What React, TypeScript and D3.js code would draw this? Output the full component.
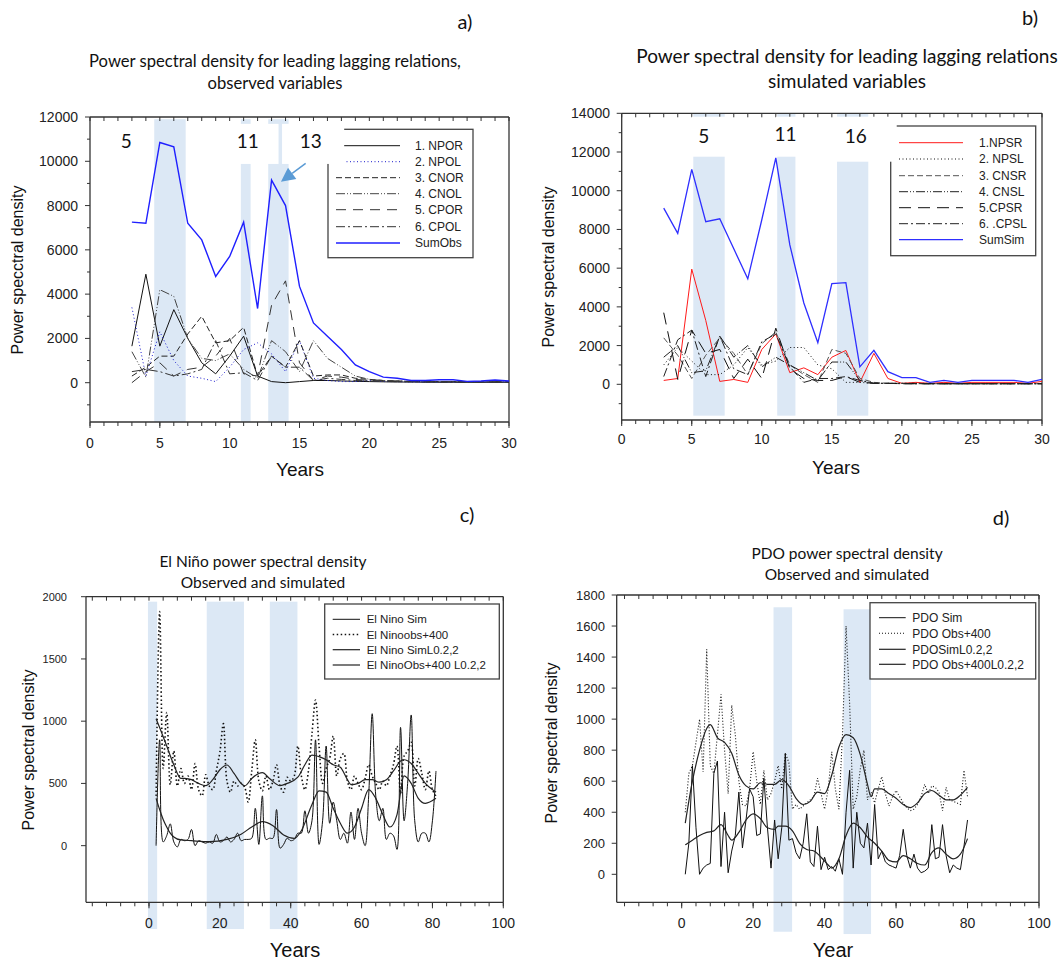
import React from 'react';
import * as d3 from 'd3';

// ---------------- Panel a data (years 3..30) ----------------
const yearsAB = [3,4,5,6,7,8,9,10,11,12,13,14,15,16,17,18,19,20,21,22,23,24,25,26,27,28,29,30];
const NPOR = [1650,4900,1650,3300,2000,900,400,1200,2100,300,50,0,50,100,100,80,60,50,40,30,30,20,20,20,20,20,20,20];
const NPOL = [3400,300,2300,1000,300,200,50,700,1500,1800,1300,500,1900,200,100,50,50,100,50,50,30,30,30,30,30,30,30,30];
const CNOR = [300,700,1200,1200,2200,3000,1800,1900,2500,300,1200,700,1900,300,350,350,200,150,100,80,60,50,50,50,40,40,40,40];
const CNOL = [1400,250,4200,3900,2000,1100,1000,1300,600,200,1900,1400,500,1900,1100,700,300,150,100,80,60,50,50,50,40,40,40,40];
const CPOR = [0,500,900,300,600,700,1200,2000,400,300,3500,4600,900,100,300,250,150,100,80,60,50,50,40,40,30,30,30,30];
const CPOL = [500,600,500,300,400,600,1900,400,450,100,1200,700,700,100,200,150,100,80,60,50,40,40,30,30,30,30,30,30];
const SumObs = [7250,7200,10850,10650,7200,6450,4800,5700,7250,3350,9150,8000,4350,2700,2100,1500,800,500,250,200,100,100,130,130,60,80,120,80];

// ---------------- Panel b data ----------------
const NPSR = [200,300,5950,3300,150,250,100,1800,2600,600,850,500,1400,1750,100,1600,300,50,100,50,100,50,100,100,100,100,50,150];
const NPSL = [1000,1900,1200,500,500,1000,1900,1000,1200,1900,1900,1000,800,100,100,50,50,50,50,50,30,30,30,30,30,30,30,30];
const CNSR = [2400,1500,300,1500,2400,1600,500,2100,2700,1000,500,100,1800,1600,300,100,50,50,50,30,30,30,30,30,30,30,30,30];
const CNSL = [1400,2000,600,700,2500,1400,2000,900,1400,1000,600,200,1150,1150,200,50,50,50,30,30,30,30,30,30,30,30,30,30];
const CPSR = [3700,250,2800,1600,1800,300,1300,300,2900,800,300,200,200,400,100,50,50,30,30,30,30,30,30,30,30,30,30,30];
const CPSL = [400,2300,2800,400,2500,800,500,2200,2600,900,100,300,300,400,200,50,50,30,30,30,30,30,30,30,30,30,30,30];
const SumSim = [9100,7800,11100,8400,8550,7000,5450,8500,11700,7200,4200,2150,5200,5250,900,1750,650,350,350,100,200,100,200,200,200,200,100,250];

// ---------------- Panel c data ----------------
const ninoX = d3.range(2, 82);
const ninoSim = [0,850,30,80,175,30,-10,50,40,50,130,0,40,30,20,30,20,90,30,40,70,30,50,100,40,50,50,60,300,10,400,50,60,60,290,-20,10,60,40,50,100,100,280,100,200,850,10,200,800,180,350,200,50,100,20,270,50,300,100,0,400,1060,400,200,300,50,100,80,-30,950,200,500,1050,200,30,100,100,30,200,600];
const ninoObs = [400,1880,620,1070,490,760,480,620,500,560,450,660,450,400,570,480,450,600,750,980,520,430,520,480,500,470,350,600,850,520,440,560,450,520,650,480,430,550,520,560,800,560,450,600,900,1170,800,500,620,700,880,560,700,740,520,450,560,500,450,540,650,560,500,450,520,480,560,650,800,420,720,760,830,480,700,580,450,600,450,400];
const ninoSimLX = [2,3,4,5,6,7,9,12,17,22,26,29,32,35,38,41,43,46,48,50,52,54,56,58,60,62,64,66,68,70,72,74,76,78,81];
const ninoSimLY = [380,290,210,150,100,70,46,40,32,50,92,150,193,160,86,59,120,330,440,430,300,180,100,150,300,450,380,250,150,250,560,500,380,340,380];
const ninoObsLX = [2,3,5,7,9,10,12,14,16,18,20,22,24,26,27,29,31,32,34,37,39,42,44,46,48,50,52,54,56,57,59,61,63,65,67,69,71,72,74,76,78,80,81];
const ninoObsLY = [1020,950,800,650,541,540,530,500,482,530,610,648,580,500,480,540,580,586,540,482,500,550,650,728,715,690,650,630,530,490,500,530,530,510,530,600,680,690,660,580,500,450,430];

// ---------------- Panel d data ----------------
const pdoX = d3.range(1, 81);
const pdoSim = [0,200,700,300,0,40,60,70,650,730,50,400,10,150,250,530,170,350,550,500,250,260,620,300,40,350,100,300,780,220,230,140,100,200,390,80,50,310,30,110,30,50,20,100,0,400,670,40,400,200,170,330,60,450,100,150,80,60,50,40,120,290,120,40,130,40,10,20,40,320,100,110,320,120,10,60,40,30,180,350];
const pdoObs = [400,650,700,850,1000,660,1450,700,650,900,1160,800,520,1090,900,600,450,440,550,790,600,450,670,480,520,600,700,550,780,720,420,450,420,440,460,480,500,620,520,420,550,790,550,420,900,1600,1100,420,500,680,800,480,530,460,550,630,520,440,500,540,500,460,430,410,420,450,500,580,520,570,560,530,410,560,480,470,460,450,670,500];
const pdoObsLX = [1,3,5,7,8,10,12,14,16,18,20,22,24,26,28,30,32,34,36,38,40,42,44,46,48,50,52,53,54,56,58,60,62,64,66,68,70,72,74,76,78,80];
const pdoObsLY = [330,600,800,940,965,880,850,780,640,570,550,590,580,580,610,570,490,450,470,530,520,640,820,900,880,770,580,500,550,550,520,490,450,430,460,520,540,510,480,480,510,560];
const pdoSimLX = [1,3,5,7,9,11,13,14,16,18,20,22,24,26,27,29,31,33,35,37,39,41,42,44,46,48,50,52,54,56,58,60,62,64,66,68,70,72,74,76,78,80];
const pdoSimLY = [190,220,250,270,280,320,250,220,270,350,390,360,300,290,310,310,280,200,160,150,110,60,40,100,250,330,300,240,200,150,90,80,120,100,70,60,140,170,130,100,130,230];

const AX = '"Liberation Sans", Arial, sans-serif';
const TT = 'Lato, "Open Sans", sans-serif';
const BAND = '#dce8f5';

type S = { name: string; x: number[]; y: number[]; color: string; dash?: string; width?: number; curve?: any; legendDash?: string };

type Cfg = {
  l: number; r: number; t: number; b: number;
  xd: [number, number]; yd: [number, number];
  xMajor: number[]; xMinor: number[]; yMajor: number[]; yMinor: number[];
  yLabX: number; yFont: number; xLabY: number; xFont: number;
  series: S[];
  bands: { x0: number; x1: number; y0: number; y1: number }[];
  boxes: { x0: number; x1: number; y0: number; y1: number }[];
  nums: { text: string; x: number; y: number }[];
  legend: { x: number; y: number; w: number; h: number; lx0: number; lx1: number; tx: number; ry: number[]; font: number };
  yTitle: { text: string; x: number; y: number; font: number };
  xTitle: { text: string; x: number; y: number; font: number };
  title: { lines: string[]; x: number; y: number[]; font: number };
  tag: { text: string; x: number; y: number };
  arrow?: { x0: number; y0: number; x1: number; y1: number };
};

function Panel({ c }: { c: Cfg }) {
  const xs = d3.scaleLinear().domain(c.xd).range([c.l, c.r]);
  const ys = d3.scaleLinear().domain(c.yd).range([c.b, c.t]);
  const stroke = '#333';
  let arrowEl = null;
  if (c.arrow) {
    const ax0 = xs(c.arrow.x0), ay0 = ys(c.arrow.y0), ax1 = xs(c.arrow.x1), ay1 = ys(c.arrow.y1);
    const ang = Math.atan2(ay1 - ay0, ax1 - ax0);
    const L = 14, Wd = 7;
    const bx = ax1 - L * Math.cos(ang), by = ay1 - L * Math.sin(ang);
    const p1 = [bx + Wd * Math.sin(ang), by - Wd * Math.cos(ang)];
    const p2 = [bx - Wd * Math.sin(ang), by + Wd * Math.cos(ang)];
    arrowEl = (
      <g>
        <line x1={ax0} y1={ay0} x2={bx} y2={by} stroke="#5b9bd5" strokeWidth={1.5} />
        <polygon points={`${ax1},${ay1} ${p1[0]},${p1[1]} ${p2[0]},${p2[1]}`} fill="#5b9bd5" />
      </g>
    );
  }
  return (
    <g>
      {c.bands.map((bd, i) => (
        <rect key={'b' + i} x={xs(bd.x0)} y={ys(bd.y1)} width={xs(bd.x1) - xs(bd.x0)} height={ys(bd.y0) - ys(bd.y1)} fill={BAND} />
      ))}
      <line x1={c.l} x2={c.r} y1={c.b} y2={c.b} stroke={stroke} strokeWidth={1.3} />
      <line x1={c.l} x2={c.r} y1={c.t} y2={c.t} stroke={stroke} strokeWidth={1.3} />
      <line x1={c.l} x2={c.l} y1={c.t} y2={c.b} stroke={stroke} strokeWidth={1.3} />
      <line x1={c.r} x2={c.r} y1={c.t} y2={c.b} stroke={stroke} strokeWidth={1.3} />
      {c.xMinor.map((v, i) => (
        <g key={'xm' + i}>
          <line x1={xs(v)} x2={xs(v)} y1={c.b} y2={c.b + 4} stroke={stroke} strokeWidth={1} />
          <line x1={xs(v)} x2={xs(v)} y1={c.t} y2={c.t + 4} stroke={stroke} strokeWidth={1} />
        </g>
      ))}
      {c.xMajor.map((v, i) => (
        <g key={'xM' + i}>
          <line x1={xs(v)} x2={xs(v)} y1={c.b} y2={c.b + 6} stroke={stroke} strokeWidth={1} />
          <text x={xs(v)} y={c.xLabY} textAnchor="middle" fontFamily={AX} fontSize={c.xFont} fill="#222">{v}</text>
        </g>
      ))}
      {c.yMinor.map((v, i) => (
        <line key={'ym' + i} x1={c.l - 3} x2={c.l} y1={ys(v)} y2={ys(v)} stroke={stroke} strokeWidth={1} />
      ))}
      {c.yMajor.map((v, i) => (
        <g key={'yM' + i}>
          <line x1={c.l - 5} x2={c.l} y1={ys(v)} y2={ys(v)} stroke={stroke} strokeWidth={1} />
          <text x={c.yLabX} y={ys(v) + c.yFont * 0.36} textAnchor="end" fontFamily={AX} fontSize={c.yFont} fill="#222">{v}</text>
        </g>
      ))}
      {c.series.map((s, i) => {
        const gen = d3.line<number>().x((d, j) => xs(s.x[j])).y((d) => ys(d)).curve(s.curve || d3.curveLinear);
        return <path key={'s' + i} d={gen(s.y) || ''} fill="none" stroke={s.color} strokeWidth={s.width || 1} strokeDasharray={s.dash} />;
      })}
      <rect x={c.legend.x} y={c.legend.y} width={c.legend.w} height={c.legend.h} fill="white" stroke="#444" strokeWidth={1.3} />
      {c.series.map((s, i) => (
        <g key={'lg' + i}>
          <line x1={c.legend.lx0} x2={c.legend.lx1} y1={c.legend.ry[i]} y2={c.legend.ry[i]} stroke={s.color} strokeWidth={s.width || 1} strokeDasharray={s.legendDash || s.dash} />
          <text x={c.legend.tx} y={c.legend.ry[i] + c.legend.font * 0.36} fontFamily={AX} fontSize={c.legend.font} fill="#222">{s.name}</text>
        </g>
      ))}
      {c.boxes.map((bx, i) => (
        <rect key={'w' + i} x={xs(bx.x0)} y={ys(bx.y1)} width={xs(bx.x1) - xs(bx.x0)} height={ys(bx.y0) - ys(bx.y1)} fill="white" />
      ))}
      {c.nums.map((n, i) => (
        <text key={'n' + i} x={xs(n.x)} y={ys(n.y)} textAnchor="middle" fontFamily={TT} fontSize={19} fill="#111">{n.text}</text>
      ))}
      {arrowEl}
      <text transform={`translate(${c.yTitle.x},${c.yTitle.y}) rotate(-90)`} textAnchor="middle" fontFamily={AX} fontSize={c.yTitle.font} fill="#111" dominantBaseline="middle">{c.yTitle.text}</text>
      <text x={c.xTitle.x} y={c.xTitle.y} textAnchor="middle" fontFamily={AX} fontSize={c.xTitle.font} fill="#111">{c.xTitle.text}</text>
      {c.title.lines.map((t, i) => (
        <text key={'t' + i} x={c.title.x} y={c.title.y[i]} textAnchor="middle" fontFamily={TT} fontSize={c.title.font} fill="#111">{t}</text>
      ))}
      <text x={c.tag.x} y={c.tag.y} textAnchor="middle" fontFamily={TT} fontSize={20} fill="#111">{c.tag.text}</text>
    </g>
  );
}

const crA = d3.curveLinear;

const cfgA: Cfg = {
  l: 90, r: 509, t: 117, b: 422, xd: [0, 30], yd: [-1775, 12000],
  xMajor: [0, 5, 10, 15, 20, 25, 30], xMinor: d3.range(0, 31), yMajor: [0, 2000, 4000, 6000, 8000, 10000, 12000], yMinor: [-1000, 1000, 3000, 5000, 7000, 9000, 11000],
  yLabX: 78, yFont: 14, xLabY: 448, xFont: 14,
  series: [
    { name: '1. NPOR', x: yearsAB, y: NPOR, color: '#111', curve: crA },
    { name: '2. NPOL', x: yearsAB, y: NPOL, color: '#1a1acc', dash: '1,2.5', curve: crA },
    { name: '3. CNOR', x: yearsAB, y: CNOR, color: '#222', dash: '6,3', curve: crA },
    { name: '4. CNOL', x: yearsAB, y: CNOL, color: '#444', dash: '9,2,1,2,1,2', curve: crA },
    { name: '5. CPOR', x: yearsAB, y: CPOR, color: '#333', dash: '10,7', curve: crA },
    { name: '6. CPOL', x: yearsAB, y: CPOL, color: '#333', dash: '9,3,2,3', curve: crA },
    { name: 'SumObs', x: yearsAB, y: SumObs, color: '#1f1fff', width: 1.4, curve: crA },
  ],
  bands: [
    { x0: 4.6, x1: 6.85, y0: -1775, y1: 11900 },
    { x0: 10.8, x1: 11.5, y0: -1775, y1: 11900 },
    { x0: 12.76, x1: 14.22, y0: -1775, y1: 11900 },
  ],
  boxes: [
    { x0: 10.3, x1: 12.2, y0: 9880, y1: 11690 },
    { x0: 12.7, x1: 13.5, y0: 9880, y1: 11690 },
    { x0: 13.75, x1: 18.2, y0: 9880, y1: 11690 },
  ],
  nums: [
    { text: '5', x: 2.6, y: 10600 },
    { text: '11', x: 11.3, y: 10600 },
    { text: '13', x: 15.8, y: 10600 },
  ],
  legend: { x: 328, y: 129.3, w: 145, h: 128.4, lx0: 336, lx1: 400, tx: 415, ry: [145.7, 161.7, 177.7, 193.7, 209.7, 226.7, 243], font: 12 },
  yTitle: { text: 'Power specctral density', x: 19, y: 270, font: 16 },
  xTitle: { text: 'Years', x: 300, y: 476, font: 19 },
  title: { lines: ['Power spectral density for leading lagging relations,', 'observed variables'], x: 275, y: [67, 89], font: 16.6 },
  tag: { text: 'a)', x: 465, y: 29 },
  arrow: { x0: 15.44, y0: 9908, x1: 13.67, y1: 9078 },
};

const cfgB: Cfg = {
  l: 621.7, r: 1042, t: 113.3, b: 420, xd: [0, 30], yd: [-1844, 14000],
  xMajor: [0, 5, 10, 15, 20, 25, 30], xMinor: d3.range(0, 31), yMajor: [0, 2000, 4000, 6000, 8000, 10000, 12000, 14000], yMinor: [-1000, 1000, 3000, 5000, 7000, 9000, 11000, 13000],
  yLabX: 610, yFont: 14, xLabY: 444, xFont: 14,
  series: [
    { name: '1.NPSR', x: yearsAB, y: NPSR, color: '#ff1a1a', curve: crA },
    { name: '2. NPSL', x: yearsAB, y: NPSL, color: '#111', dash: '1,2.5', curve: crA },
    { name: '3. CNSR', x: yearsAB, y: CNSR, color: '#555', dash: '6,3', curve: crA },
    { name: '4. CNSL', x: yearsAB, y: CNSL, color: '#222', dash: '9,2,1,2,1,2', curve: crA },
    { name: '5.CPSR', x: yearsAB, y: CPSR, color: '#111', dash: '12,7', curve: crA },
    { name: '6. .CPSL', x: yearsAB, y: CPSL, color: '#222', dash: '9,3,2,3', curve: crA },
    { name: 'SumSim', x: yearsAB, y: SumSim, color: '#2e2eff', width: 1.3, curve: crA },
  ],
  bands: [
    { x0: 5.11, x1: 7.35, y0: -1620, y1: 14000 },
    { x0: 11.1, x1: 12.4, y0: -1620, y1: 14000 },
    { x0: 15.37, x1: 17.6, y0: -1620, y1: 14000 },
  ],
  boxes: [
    { x0: 5.0, x1: 7.5, y0: 11758, y1: 13824 },
    { x0: 11.0, x1: 12.5, y0: 11758, y1: 13824 },
    { x0: 15.3, x1: 19.63, y0: 11500, y1: 13824 },
  ],
  nums: [
    { text: '5', x: 5.85, y: 12450 },
    { text: '11', x: 11.7, y: 12550 },
    { text: '16', x: 16.7, y: 12450 },
  ],
  legend: { x: 890.7, y: 126, w: 145, h: 129.7, lx0: 899, lx1: 963, tx: 979, ry: [142.7, 159, 175.7, 191.7, 207.7, 223.7, 239.7], font: 12 },
  yTitle: { text: 'Power spectral density', x: 550, y: 267, font: 16 },
  xTitle: { text: 'Years', x: 836, y: 474, font: 19 },
  title: { lines: ['Power spectral density for leading lagging relations', 'simulated variables'], x: 847, y: [63, 88], font: 19 },
  tag: { text: 'b)', x: 1030, y: 25 },
};

const cfgC: Cfg = {
  l: 86, r: 503.3, t: 596.7, b: 902.3, xd: [-17.78, 100], yd: [-455, 2000],
  xMajor: [0, 20, 40, 60, 80, 100], xMinor: d3.range(-16, 101, 4), yMajor: [0, 500, 1000, 1500, 2000], yMinor: [],
  yLabX: 67, yFont: 11, xLabY: 928, xFont: 14,
  series: [
    { name: 'El Nino Sim', x: ninoX, y: ninoSim, color: '#111', curve: d3.curveCatmullRom.alpha(0.5) },
    { name: 'El Ninoobs+400', x: ninoX, y: ninoObs, color: '#111', dash: '1.5,2.5', width: 1.6, curve: d3.curveCatmullRom.alpha(0.5) },
    { name: 'El Nino SimL0.2,2', x: ninoSimLX, y: ninoSimLY, color: '#222', width: 1.2, curve: d3.curveMonotoneX },
    { name: 'El NinoObs+400 L0.2,2', x: ninoObsLX, y: ninoObsLY, color: '#222', width: 1.2, curve: d3.curveMonotoneX },
  ],
  bands: [
    { x0: -0.3, x1: 2.3, y0: -670, y1: 1960 },
    { x0: 16.3, x1: 26.8, y0: -670, y1: 1960 },
    { x0: 34.1, x1: 41.9, y0: -670, y1: 1960 },
  ],
  boxes: [], nums: [],
  legend: { x: 324.7, y: 604, w: 174.6, h: 75, lx0: 332.7, lx1: 360, tx: 366.7, ry: [619.3, 634.5, 649.7, 665], font: 11.5 },
  yTitle: { text: 'Power spectral density', x: 30, y: 750, font: 16 },
  xTitle: { text: 'Years', x: 295, y: 957, font: 20 },
  title: { lines: ['El Niño power spectral density', 'Observed and simulated'], x: 263, y: [567, 588], font: 15.5 },
  tag: { text: 'c)', x: 467, y: 522 },
};

const cfgD: Cfg = {
  l: 616.7, r: 1039, t: 595, b: 902.3, xd: [-18.19, 100], yd: [-180.4, 1800],
  xMajor: [0, 20, 40, 60, 80, 100], xMinor: d3.range(-16, 101, 4), yMajor: [0, 200, 400, 600, 800, 1000, 1200, 1400, 1600, 1800], yMinor: [],
  yLabX: 605, yFont: 13, xLabY: 928, xFont: 14,
  series: [
    { name: 'PDO Sim', x: pdoX, y: pdoSim, color: '#111', curve: d3.curveLinear },
    { name: 'PDO Obs+400', x: pdoX, y: pdoObs, color: '#111', dash: '1,2', width: 1.1, curve: d3.curveLinear },
    { name: 'PDOSimL0.2,2', x: pdoSimLX, y: pdoSimLY, color: '#222', width: 1.2, curve: d3.curveMonotoneX },
    { name: 'PDO Obs+400L0.2,2', x: pdoObsLX, y: pdoObsLY, color: '#222', width: 1.2, curve: d3.curveMonotoneX },
  ],
  bands: [
    { x0: 25.7, x1: 30.9, y0: -370, y1: 1721 },
    { x0: 45.3, x1: 53.0, y0: -385, y1: 1708 },
  ],
  boxes: [], nums: [],
  legend: { x: 870, y: 602.7, w: 165.7, h: 76.3, lx0: 879, lx1: 905.7, tx: 912.3, ry: [617.7, 633.3, 649.3, 664.3], font: 12 },
  yTitle: { text: 'Power spectral density', x: 553, y: 743, font: 16 },
  xTitle: { text: 'Year', x: 833, y: 957, font: 20 },
  title: { lines: ['PDO power spectral density', 'Observed and simulated'], x: 847, y: [559, 580], font: 15.5 },
  tag: { text: 'd)', x: 1001, y: 525 },
};

export default function App() {
  return (
    <svg width={1062} height={960} style={{ position: 'absolute', left: 0, top: 0, background: 'white' }}>
      <rect x={0} y={0} width={1062} height={960} fill="white" />
      <Panel c={cfgA} />
      <Panel c={cfgB} />
      <Panel c={cfgC} />
      <Panel c={cfgD} />
    </svg>
  );
}
